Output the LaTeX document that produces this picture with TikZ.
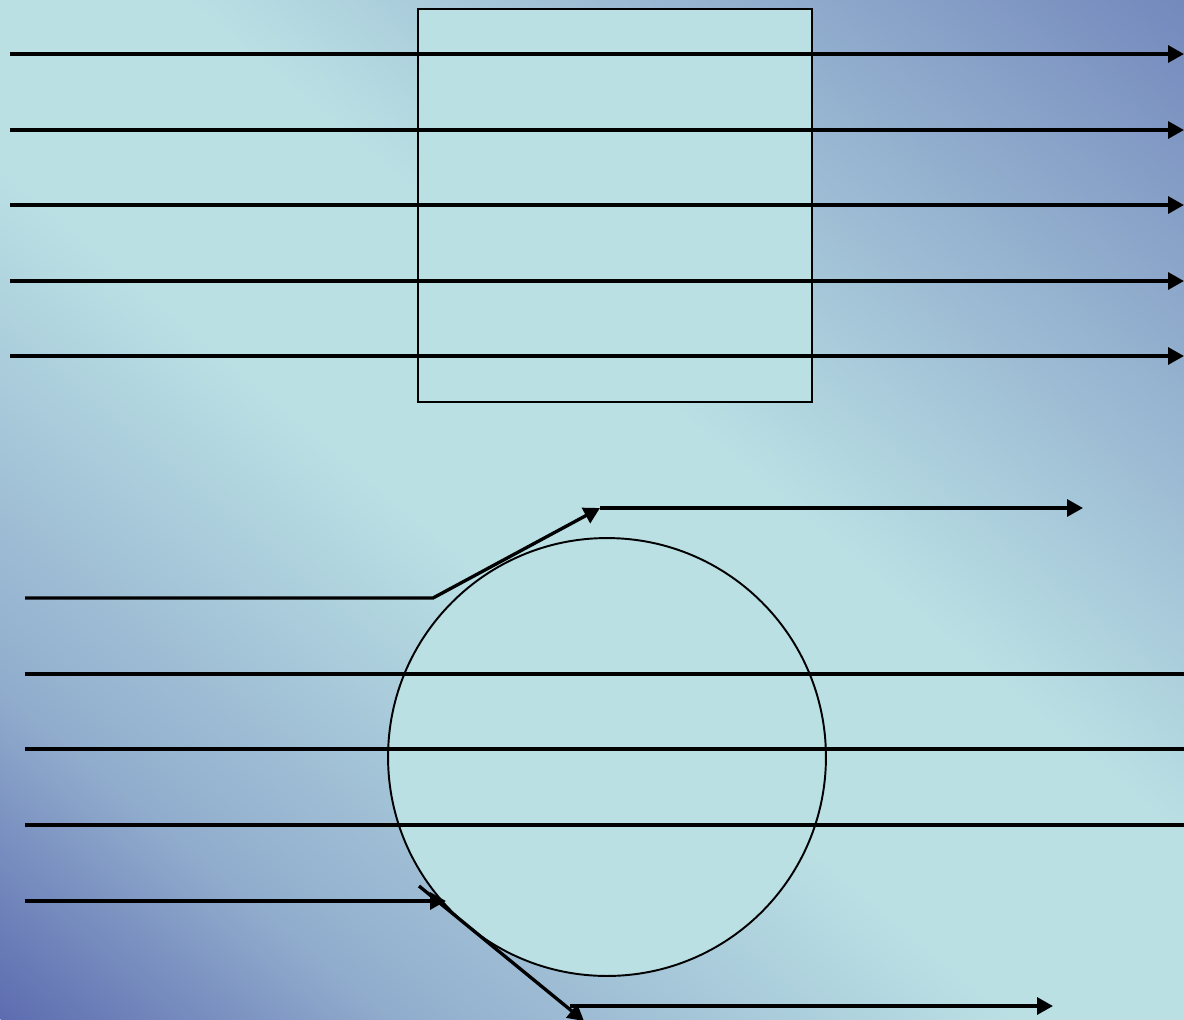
\documentclass[tikz,border=0pt]{standalone}
\usepackage{xcolor}
\usetikzlibrary{arrows.meta}
\definecolor{bglight}{HTML}{BAE0E4}
\definecolor{bgdark}{HTML}{5D6CB0}

\begin{document}
\begin{tikzpicture}[x=0.02cm, y=-0.02cm,
	ray/.style={line width=1.9pt},
	tip/.style={-{Triangle[length=0.32cm,width=0.34cm]}},
	lens/.style={draw, fill=bglight, inner sep=0pt}]
	\useasboundingbox (0,0) rectangle (1184,1019);
	% background
	\begin{scope}
		\clip (0,0) rectangle (1184,1019);
		\begin{scope}[transform canvas={shift={(0,1019)}, rotate=50}]
			\shade[left color=bgdark, right color=bgdark!45!bglight] (0cm,-20cm) rectangle (5.05cm,17cm);
			\shade[left color=bgdark!45!bglight, right color=bglight] (5cm,-20cm) rectangle (13.05cm,17cm);
			\fill[bglight] (13cm,-20cm) rectangle (18.05cm,17cm);
			\shade[left color=bglight, right color=bgdark] (18cm,-20cm) rectangle (35cm,17cm);
		\end{scope}
	\end{scope}
	% slab and lens
	\node[lens, rectangle, line width=0.8pt, minimum width=7.88cm, minimum height=7.86cm] (slab) at (615,205.5) {};
	\node[lens, circle, line width=1.1pt, minimum size=8.76cm] (ball) at (607,757) {};
	% rays through the slab
	\foreach \y [count=\i] in {54,130,205,281,356}{
		\coordinate (src\i) at (10,\y);
		\coordinate (dst\i) at (1184,\y);
		\draw[ray, tip] (src\i) -- (dst\i);
	}
	% rays through the ball
	\foreach \y [count=\i] in {674,749,825}{
		\coordinate (in\i) at (25,\y);
		\coordinate (out\i) at (1184,\y);
		\draw[ray] (in\i) -- (out\i);
	}
	% upper grazing ray
	\coordinate (upin) at (25,598);
	\coordinate (upbend) at (433,598);
	\coordinate (upkink) at (600,508);
	\coordinate (upout) at (1083,508);
	\draw[ray, tip] (upin) -- (upbend) -- (upkink);
	\draw[ray, tip] (upkink) -- (upout);
	% lower grazing ray
	\coordinate (lowin) at (25,901);
	\coordinate (lowhit) at (446,901);
	\coordinate (lowstart) at (419,886);
	\coordinate (lowend) at (584,1021);
	\coordinate (lowfrom) at (570,1006);
	\coordinate (lowout) at (1053,1006);
	\draw[ray, tip] (lowin) -- (lowhit);
	\draw[ray, tip] (lowstart) -- (lowend);
	\draw[ray, tip] (lowfrom) -- (lowout);
\end{tikzpicture}
\end{document}
